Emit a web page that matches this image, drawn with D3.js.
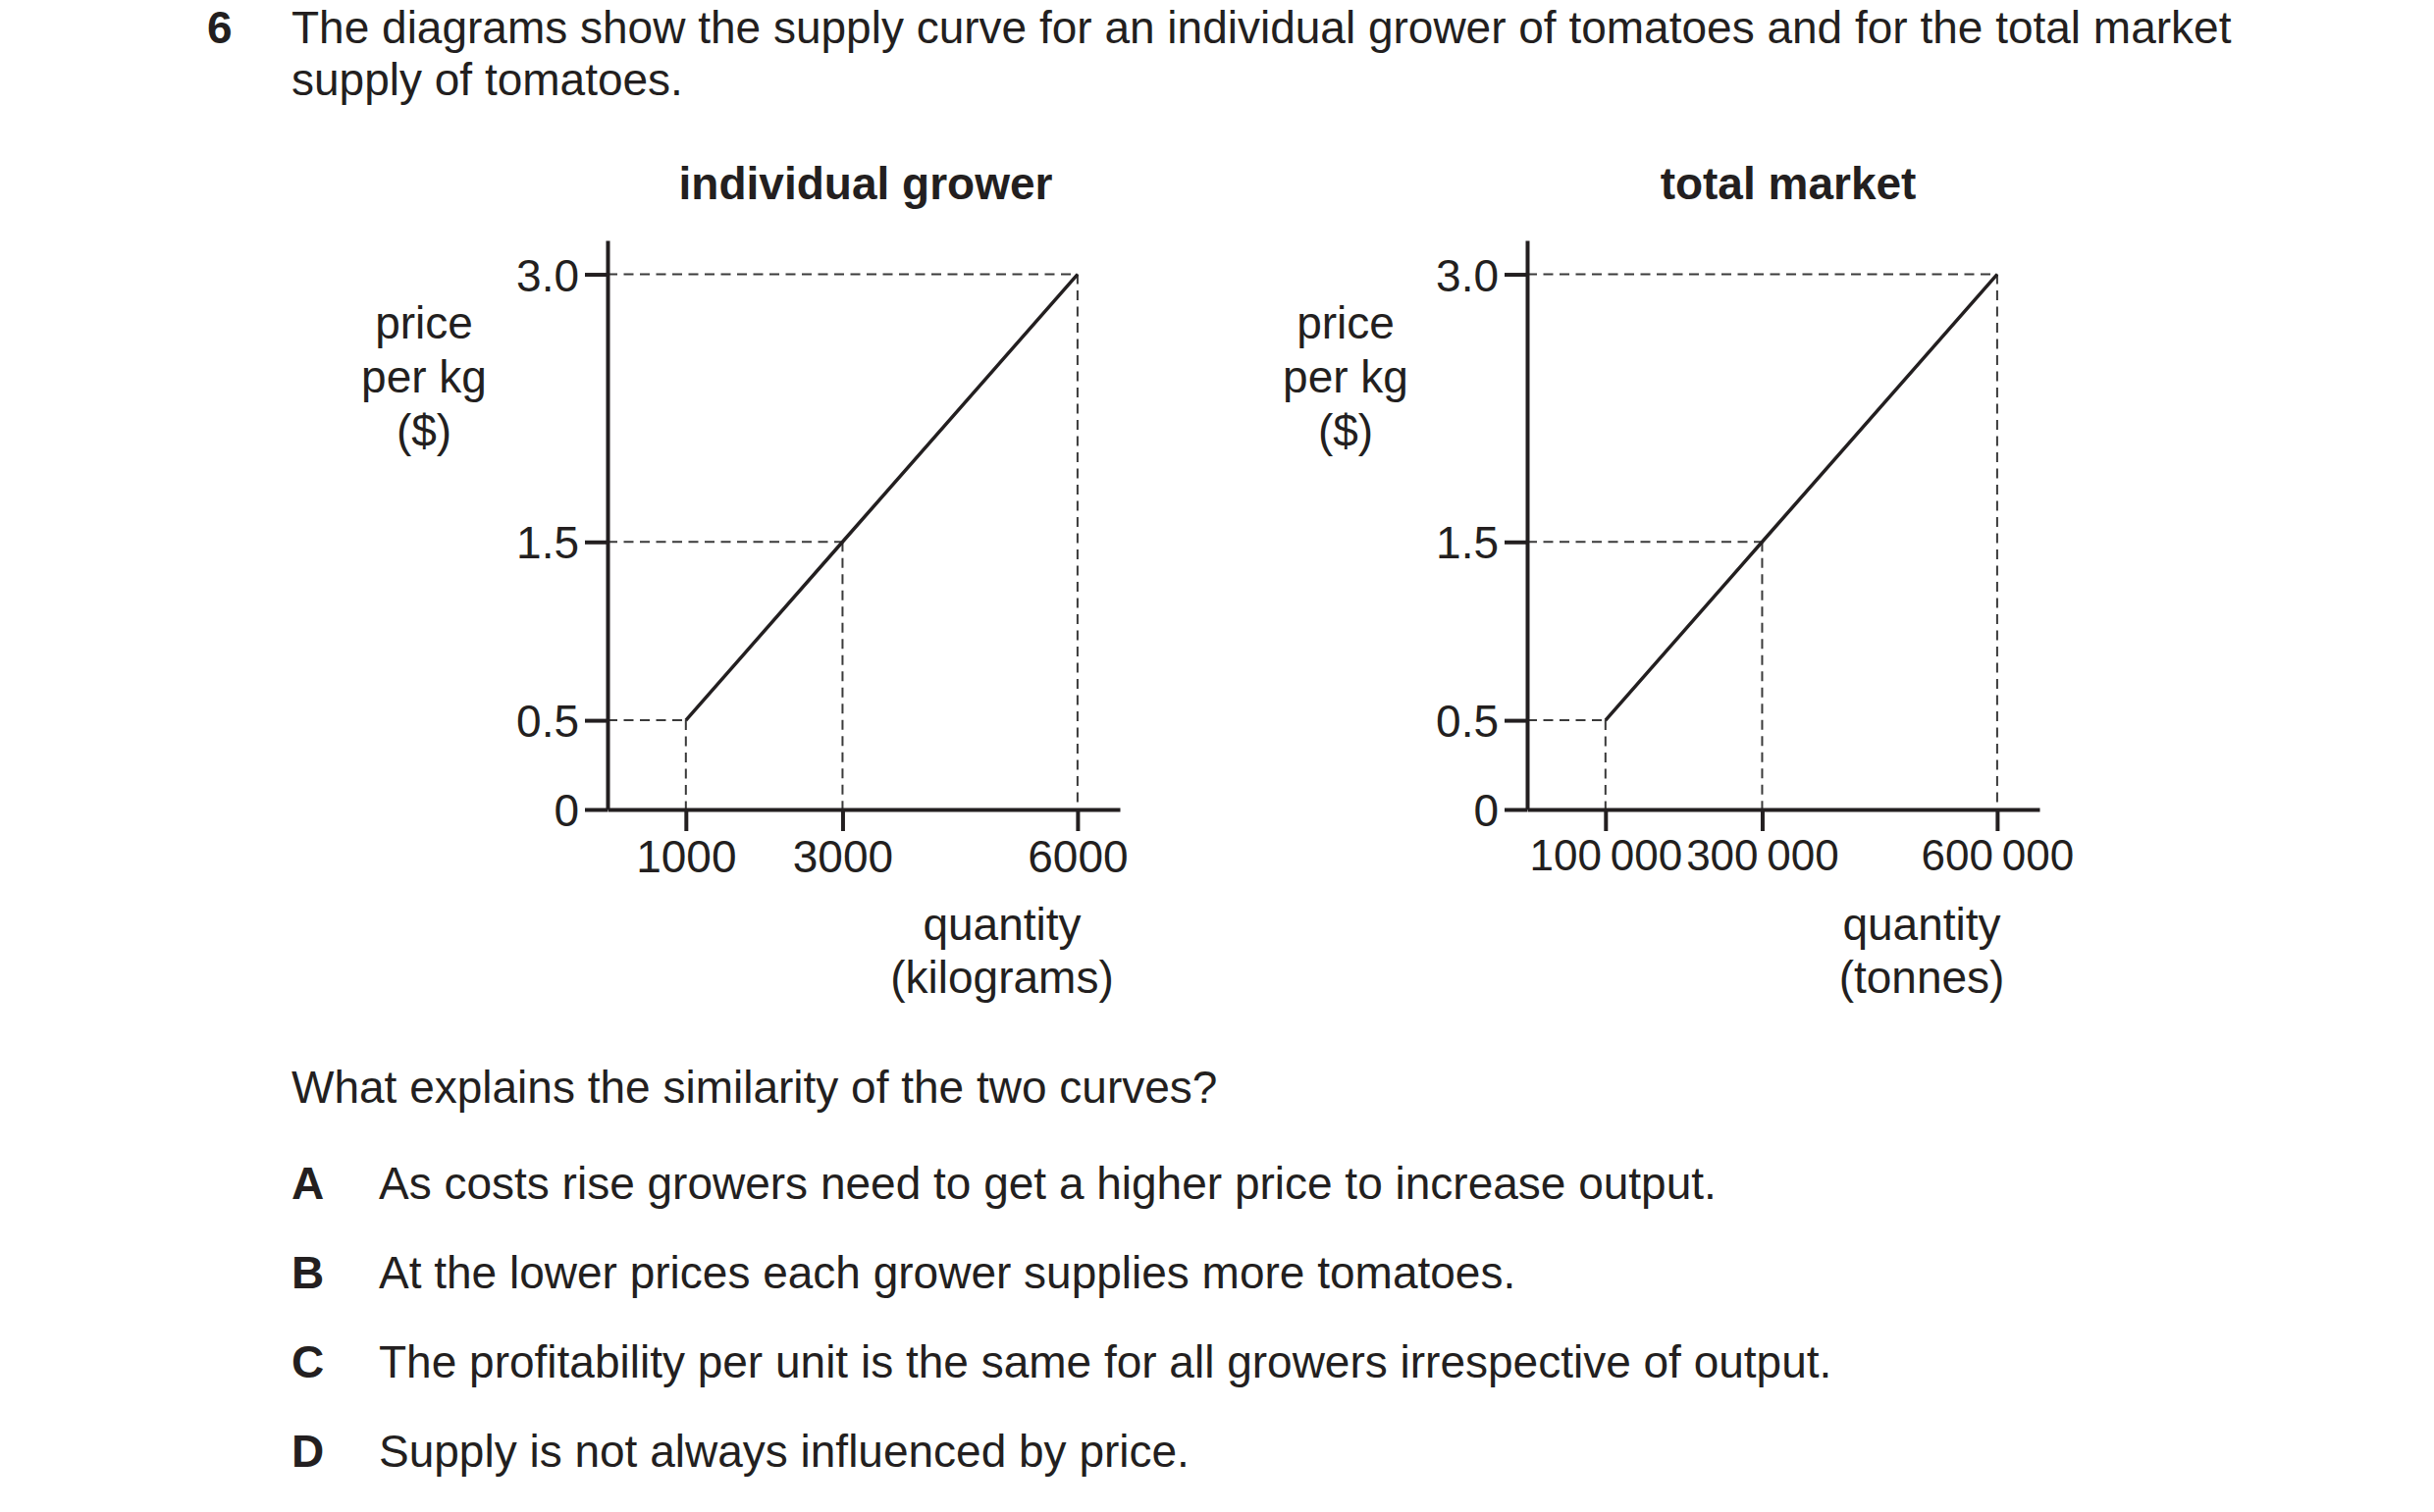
<!DOCTYPE html><html><head><meta charset="utf-8">
<script src="https://cdn.jsdelivr.net/npm/d3@7"></script>
<style>
  body { margin: 0; background: #fff; }
  text { font-family: "Liberation Sans", Arial, sans-serif; fill: #231f20; }
</style>
</head>
<body><svg id="sheet"></svg>
<script>

var price = [0.5, 1.5, 3.0],
    growerQty = [1000, 3000, 6000],
    marketQty = [100000, 300000, 600000];

var priceTicks = [0, 0.5, 1.5, 3.0],
    priceTickLabels = ["0", "0.5", "1.5", "3.0"],
    growerTickLabels = ["1000", "3000", "6000"],
    marketTickLabels = ["100\u2009000", "300\u2009000", "600\u2009000"];

var questionLines = ["The diagrams show the supply curve for an individual grower of tomatoes and for the total market",
                     "supply of tomatoes."],
    optionKeys = ["A", "B", "C", "D"],
    optionTexts = ["As costs rise growers need to get a higher price to increase output.",
                   "At the lower prices each grower supplies more tomatoes.",
                   "The profitability per unit is the same for all growers irrespective of output.",
                   "Supply is not always influenced by price."];

var W = 2480, H = 1541, fs = 46, ink = "#231f20";

var svg = d3.select("#sheet")
    .attr("width", W)
    .attr("height", H);

// question header
svg.append("text").attr("x", 211).attr("y", 44)
    .style("font-size", fs + "px").style("font-weight", "bold").text("6");
svg.selectAll(".qline").data(questionLines).enter().append("text")
    .attr("class", "qline")
    .attr("x", 297)
    .attr("y", function(d, i) { return 44 + i * 53; })
    .style("font-size", fs + "px")
    .text(function(d) { return d; });

// y scale is shared, top of the axis sits a bit above 3.0
var y = d3.scaleLinear().domain([0, 3.19]).range([825, 245]);

function drawPanel(opts) {
  var x = d3.scaleLinear().domain([0, opts.xMax]).range([opts.x0, opts.x0 + 522]);
  var g = svg.append("g");

  // dashed guides
  var pts = opts.qty.map(function(q, i) { return [q, price[i]]; });
  g.selectAll(".hguide").data(pts).enter().append("line")
      .attr("x1", x(0)).attr("x2", function(d) { return x(d[0]); })
      .attr("y1", function(d) { return y(d[1]); }).attr("y2", function(d) { return y(d[1]); })
      .attr("stroke", "#3a3a3a").attr("stroke-width", 2).attr("stroke-dasharray", "10,6.5");
  g.selectAll(".vguide").data(pts).enter().append("line")
      .attr("x1", function(d) { return x(d[0]); }).attr("x2", function(d) { return x(d[0]); })
      .attr("y1", function(d) { return y(d[1]); }).attr("y2", y(0))
      .attr("stroke", "#3a3a3a").attr("stroke-width", 2).attr("stroke-dasharray", "10,6.5");

  // supply curve
  g.append("path")
      .datum(pts)
      .attr("fill", "none").attr("stroke", ink).attr("stroke-width", 3.5)
      .attr("d", d3.line().x(function(d) { return x(d[0]); }).y(function(d) { return y(d[1]); }));

  // axes
  var yAxis = g.append("g").attr("transform", "translate(" + x(0) + ",0)")
      .call(d3.axisLeft(y).tickValues(priceTicks).tickSize(23).tickSizeOuter(0).tickPadding(6)
        .tickFormat(function(d, i) { return priceTickLabels[i]; }));
  var xAxis = g.append("g").attr("transform", "translate(0," + y(0) + ")")
      .call(d3.axisBottom(x).tickValues(opts.qty).tickSize(22).tickSizeOuter(0).tickPadding(9)
        .tickFormat(function(d, i) { return opts.labels[i]; }));
  [yAxis, xAxis].forEach(function(a) {
    a.selectAll("path, line").attr("stroke", ink).attr("stroke-width", 4);
    a.selectAll("text").style("font-size", fs + "px").attr("fill", ink)
      .style("font-family", "'Liberation Sans', Arial, sans-serif");
  });
  xAxis.selectAll("text").style("font-size", opts.tickFs + "px");
  yAxis.selectAll("text").attr("dy", "0.36em");

  // titles and axis labels
  g.append("text").attr("x", opts.titleX).attr("y", 203)
      .style("font-size", fs + "px").style("font-weight", "bold")
      .style("text-anchor", "middle").text(opts.title);
  g.selectAll(".plabel").data(["price", "per kg", "($)"]).enter().append("text")
      .attr("x", opts.priceX).attr("y", function(d, i) { return 345 + i * 55; })
      .style("font-size", fs + "px").style("text-anchor", "middle")
      .text(function(d) { return d; });
  g.selectAll(".qlabel").data(["quantity", opts.unit]).enter().append("text")
      .attr("x", opts.qtyX).attr("y", function(d, i) { return 958 + i * 54; })
      .style("font-size", fs + "px").style("text-anchor", "middle")
      .text(function(d) { return d; });
}

drawPanel({ x0: 619, xMax: 6540, qty: growerQty, labels: growerTickLabels, tickFs: 46,
            title: "individual grower", titleX: 882, priceX: 432, qtyX: 1021, unit: "(kilograms)" });
drawPanel({ x0: 1556, xMax: 654000, qty: marketQty, labels: marketTickLabels, tickFs: 44,
            title: "total market", titleX: 1822, priceX: 1371, qtyX: 1958, unit: "(tonnes)" });

// question and options
svg.append("text").attr("x", 297).attr("y", 1124)
    .style("font-size", fs + "px").text("What explains the similarity of the two curves?");
svg.selectAll(".okey").data(optionKeys).enter().append("text")
    .attr("x", 297).attr("y", function(d, i) { return 1222 + i * 91; })
    .style("font-size", fs + "px").style("font-weight", "bold")
    .text(function(d) { return d; });
svg.selectAll(".otext").data(optionTexts).enter().append("text")
    .attr("x", 386).attr("y", function(d, i) { return 1222 + i * 91; })
    .style("font-size", fs + "px")
    .text(function(d) { return d; });

</script>
</body></html>
